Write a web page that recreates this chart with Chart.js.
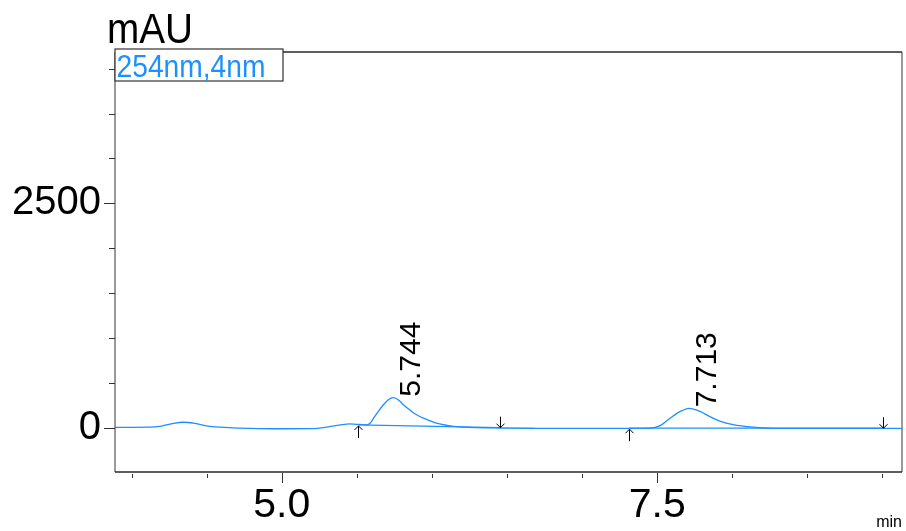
<!DOCTYPE html>
<html><head><meta charset="utf-8">
<script src="https://cdn.jsdelivr.net/npm/chart.js@4/dist/chart.umd.min.js"></script>
<style>html,body{margin:0;padding:0;background:#fff}#wrap{width:906px;height:531px;position:relative}</style>
</head><body><div id="wrap"><canvas id="c" width="906" height="531"></canvas></div>
<script>
const seriesName = '254nm,4nm';
const yUnit = 'mAU';
const xUnit = 'min';
const times = [3.89, 4.00, 4.12, 4.20, 4.28, 4.345, 4.42, 4.52, 4.65, 4.79, 5.00, 5.19, 5.32, 5.40, 5.455, 5.52, 5.566, 5.59, 5.61, 5.64, 5.676, 5.71, 5.744, 5.78, 5.81, 5.845, 5.876, 5.91, 5.943, 5.99, 6.03, 6.10, 6.165, 6.30, 6.453, 6.70, 7.00, 7.30, 7.452, 7.52, 7.585, 7.652, 7.713, 7.785, 7.85, 7.917, 8.006, 8.14, 8.273, 8.60, 9.00, 9.13];
const signal = [11, 11, 12, 25, 55, 67, 55, 22, 8, 0, -5, -4, 18, 40, 48, 42, 37, 58, 108, 180, 259, 318, 340, 312, 262, 214, 172, 139, 113, 83, 58, 33, 18, 7, 3, 0, -2, 0, 2, 29, 111, 185, 222, 188, 130, 80, 40, 12, 0, 0, 0, 0];
const peakTimes = [5.744, 7.713];
const peakHeights = [340, 222];
const peakLabels = ['5.744', '7.713'];
const baseline1Times = [5.507, 6.453];
const baseline1Values = [37, 7];
const baseline2Times = [7.313, 9.003];
const baseline2Values = [1, 1];
const markerTimes = [5.507, 6.453, 7.313, 9.003];
const markerValues = [37, 7, 1, 1];
const markerDirs = ['up', 'down', 'up', 'down'];
const xTickValues = [4.0, 4.5, 5.0, 5.5, 6.0, 6.5, 7.0, 7.5, 8.0, 8.5, 9.0];
const xLabelValues = [5.0, 7.5];
const yTickValues = [0, 500, 1000, 1500, 2000, 2500, 3000, 3500, 4000];
const yLabelValues = [0, 2500];
const xRange = [3.89, 9.13];
const yRange = [-486, 4184];

const FONT = "'Liberation Sans', Arial, sans-serif";
const BLUE = '#1E8FFF';

function pts(xs, ys) { return xs.map((x, i) => ({ x: x, y: ys[i] })); }

function fitText(ctx, text, x, y, size, width, color) {
  ctx.save();
  ctx.font = size + 'px ' + FONT;
  ctx.fillStyle = color;
  ctx.textAlign = 'left';
  ctx.textBaseline = 'alphabetic';
  const w = ctx.measureText(text).width;
  ctx.translate(x, y);
  ctx.scale(width / w, 1);
  ctx.fillText(text, 0, 0);
  ctx.restore();
}

const decor = {
  id: 'decor',
  afterDatasetsDraw(chart) {
    const ctx = chart.ctx;
    const a = chart.chartArea;
    const xs = chart.scales.x, ys = chart.scales.y;
    ctx.save();
    ctx.lineWidth = 1.5;
    ctx.strokeStyle = '#7a7a7a';
    ctx.beginPath();
    ctx.moveTo(a.left, a.top); ctx.lineTo(a.left, a.bottom);
    ctx.moveTo(a.right, a.top); ctx.lineTo(a.right, a.bottom);
    ctx.stroke();
    ctx.strokeStyle = '#2a2a2a';
    ctx.beginPath();
    ctx.moveTo(a.left, a.top); ctx.lineTo(a.right, a.top);
    ctx.moveTo(a.left, a.bottom); ctx.lineTo(a.right, a.bottom);
    ctx.stroke();
    ctx.lineWidth = 1;
    ctx.strokeStyle = '#333';
    ctx.beginPath();
    yTickValues.forEach(v => {
      const y = Math.round(ys.getPixelForValue(v)) + 0.5;
      const len = yLabelValues.includes(v) ? 11 : 6;
      ctx.moveTo(a.left - len, y); ctx.lineTo(a.left, y);
    });
    xTickValues.forEach(v => {
      const x = Math.round(xs.getPixelForValue(v)) + 0.5;
      if (xLabelValues.includes(v)) { ctx.moveTo(x, a.bottom + 1); ctx.lineTo(x, a.bottom + 11); }
      else { ctx.moveTo(x, a.bottom + 2); ctx.lineTo(x, a.bottom + 6); }
    });
    ctx.stroke();
    ctx.strokeStyle = '#000';
    ctx.lineWidth = 1;
    markerTimes.forEach((t, i) => {
      const x = Math.round(xs.getPixelForValue(t)) + 0.5;
      const y = ys.getPixelForValue(markerValues[i]);
      ctx.beginPath();
      if (markerDirs[i] === 'up') {
        const tip = y + 1;
        ctx.moveTo(x, tip); ctx.lineTo(x, tip + 12);
        ctx.moveTo(x - 4, tip + 4); ctx.lineTo(x, tip); ctx.lineTo(x + 4, tip + 4);
      } else {
        const tip = y;
        ctx.moveTo(x, tip); ctx.lineTo(x, tip - 11);
        ctx.moveTo(x - 4, tip - 4); ctx.lineTo(x, tip); ctx.lineTo(x + 4, tip - 4);
      }
      ctx.stroke();
    });
    ctx.fillStyle = '#000';
    ctx.font = '30px ' + FONT;
    ctx.textAlign = 'left';
    ctx.textBaseline = 'alphabetic';
    peakTimes.forEach((t, i) => {
      const x = xs.getPixelForValue(t);
      const y = ys.getPixelForValue(peakHeights[i]);
      ctx.save();
      ctx.translate(x + 27, y - 1);
      ctx.rotate(-Math.PI / 2);
      ctx.fillText(peakLabels[i], 0, 0);
      ctx.restore();
    });
    ctx.fillStyle = '#fff';
    ctx.fillRect(a.left, a.top - 3, 168, 32);
    ctx.strokeStyle = '#333';
    ctx.lineWidth = 1.2;
    ctx.strokeRect(a.left, a.top - 3, 168, 32);
    fitText(ctx, chart.data.datasets[0].label, a.left + 1.5, a.top + 24.5, 31, 149, BLUE);
    fitText(ctx, yUnit, 107, 43, 42, 86, '#000');
    ctx.font = '16px ' + FONT;
    ctx.fillStyle = '#000';
    ctx.textAlign = 'right';
    ctx.fillText(xUnit, 902, 527);
    ctx.restore();
  }
};

new Chart(document.getElementById('c'), {
  type: 'line',
  data: {
    datasets: [
      { label: seriesName, data: pts(times, signal), borderColor: BLUE, borderWidth: 1.3, pointRadius: 0, fill: false, cubicInterpolationMode: 'monotone' },
      { label: 'baseline 1', data: pts(baseline1Times, baseline1Values), borderColor: BLUE, borderWidth: 1.2, pointRadius: 0, fill: false },
      { label: 'baseline 2', data: pts(baseline2Times, baseline2Values), borderColor: BLUE, borderWidth: 1.2, pointRadius: 0, fill: false }
    ]
  },
  options: {
    responsive: false,
    animation: false,
    devicePixelRatio: 1,
    layout: { padding: { top: 52, right: 4, left: 0, bottom: 0 } },
    plugins: { legend: { display: false }, tooltip: { enabled: false } },
    scales: {
      x: {
        type: 'linear', min: xRange[0], max: xRange[1], position: 'bottom',
        afterFit: s => { s.height = 59; },
        afterBuildTicks: s => { s.ticks = xTickValues.map(v => ({ value: v })); },
        grid: { display: false, drawTicks: false },
        border: { display: false },
        ticks: { autoSkip: false, maxRotation: 0, minRotation: 0, padding: 9, color: '#000', font: { size: 41, family: FONT },
          callback: v => xLabelValues.includes(v) ? v.toFixed(1) : '' }
      },
      y: {
        type: 'linear', min: yRange[0], max: yRange[1],
        afterFit: s => { s.width = 115; },
        afterBuildTicks: s => { s.ticks = yTickValues.map(v => ({ value: v })); },
        grid: { display: false, drawTicks: false },
        border: { display: false },
        ticks: { autoSkip: false, padding: 14, color: '#000', font: { size: 40, family: FONT },
          callback: v => yLabelValues.includes(v) ? String(v) : '' }
      }
    }
  },
  plugins: [decor]
});
</script>
</body></html>
